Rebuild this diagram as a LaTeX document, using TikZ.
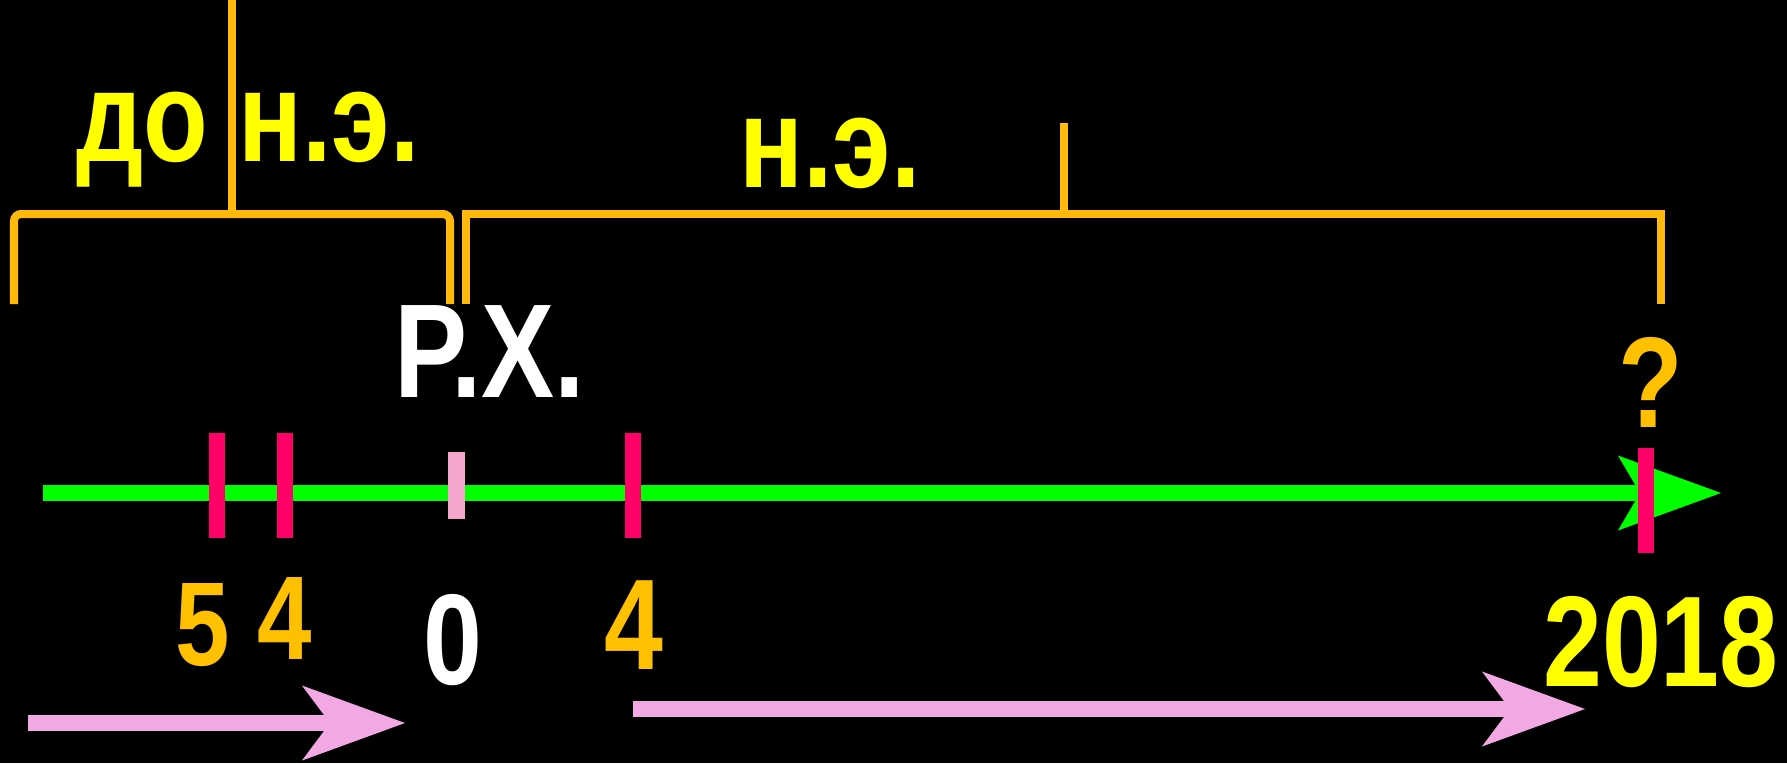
\documentclass[tikz,border=0pt]{standalone}
\usepackage{fontspec}
\setmainfont{Liberation Sans}[FakeStretch=0.82]
\usetikzlibrary{arrows.meta}

\definecolor{erabracket}{HTML}{FFB90A}
\definecolor{eratext}{HTML}{FFFF00}
\definecolor{yeartext}{HTML}{FFC000}
\definecolor{axisline}{HTML}{00FF00}
\definecolor{yearmark}{HTML}{FF0066}
\definecolor{zeromark}{HTML}{F4A6CC}
\definecolor{spanarrow}{HTML}{F2A8E2}

\begin{document}
\begin{tikzpicture}[x=0.01cm,y=-0.01cm,
  bigtext/.style={font=\bfseries\fontsize{36.7}{40}\selectfont,inner sep=0pt,anchor=base},
  smalltext/.style={font=\bfseries\fontsize{33.9}{38}\selectfont,inner sep=0pt,anchor=base},
  bracket/.style={draw=erabracket,line width=0.08cm},
  spanline/.style={line width=0.16cm,
    -{Stealth[length=1.03cm,width=0.75cm,inset=0.28cm,line width=0pt]}}]
  \fill[black] (0,0) rectangle (1787,763);
  \useasboundingbox (0,0) rectangle (1787,763);

  % era brackets above the axis
  \draw[bracket,rounded corners=2pt] (14,304) -- (14,214) -- (450,214) -- (450,304);
  \draw[bracket] (466,304) -- (466,214) -- (1661,214) -- (1661,304);
  \draw[bracket] (232,0) -- (232,214);
  \draw[bracket] (1064,123) -- (1064,214);
  \node[bigtext,text=eratext] (bce) at (142,161) {до};
  \node[bigtext,text=eratext] (cel) at (329,161) {н.э.};
  \node[bigtext,text=eratext] (cer) at (830,187) {н.э.};
  \node[bigtext,text=white,font=\bfseries\fontsize{38}{42}\selectfont] (birth) at (490,397) {Р.Х.};
  \node[bigtext,text=yeartext] (query) at (1651,427) {?};

  % time axis with year marks
  \coordinate (axisstart) at (43,493);
  \coordinate (axisend) at (1721,493);
  \draw[axisline,spanline,
    -{Stealth[length=1.03cm,width=0.75cm,inset=0.22cm,line width=0pt]}]
    (axisstart) -- (axisend);
  \fill[yearmark] (209,433) rectangle (225,538);
  \fill[yearmark] (277,433) rectangle (293,538);
  \fill[zeromark] (448,452) rectangle (465,519);
  \fill[yearmark] (625,433) rectangle (641,538);
  \fill[yearmark] (1638,448) rectangle (1654,553);

  \node[smalltext,text=yeartext] (yfive) at (203,665) {5};
  \node[smalltext,text=yeartext] (yfour) at (285,659) {4};
  \node[bigtext,text=white] (yzero) at (453,684) {0};
  \node[bigtext,text=yeartext] (yfource) at (634,669) {4};
  \node[bigtext,text=eratext] (ynow) at (1661,686) {2018};

  % direction of counting
  \coordinate (countbce) at (28,723);
  \coordinate (countbceend) at (405,723);
  \coordinate (countce) at (633,709);
  \coordinate (countceend) at (1585,709);
  \draw[spanarrow,spanline] (countbce) -- (countbceend);
  \draw[spanarrow,spanline] (countce) -- (countceend);
\end{tikzpicture}
\end{document}
